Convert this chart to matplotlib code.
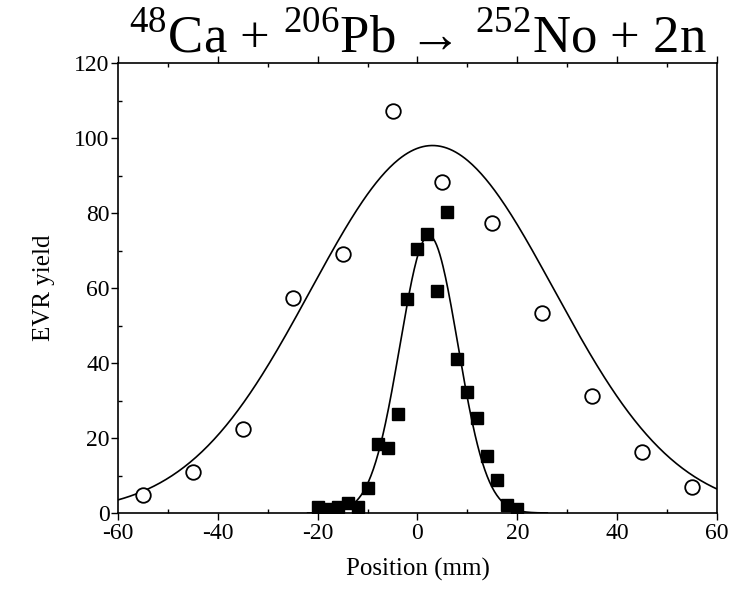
import numpy as np
import matplotlib.pyplot as plt
from matplotlib.ticker import MultipleLocator

plt.rcParams['font.family'] = ['Liberation Serif', 'DejaVu Serif']
plt.rcParams['mathtext.fontset'] = 'custom'
plt.rcParams['mathtext.rm'] = 'Liberation Serif'
plt.rcParams['axes.unicode_minus'] = False

# open circles (wide distribution)
pos_open = [-55, -45, -35, -25, -15, -5, 5, 15, 25, 35, 45, 55]
yield_open = [4.8, 10.9, 22.4, 57.3, 69, 107.2, 88.3, 77.3, 53.3, 31.2, 16.3, 6.9]

# filled squares (narrow distribution)
pos_sq = [-20, -18, -16, -14, -12, -10, -8, -6, -4, -2, 0, 2, 4, 6, 8, 10, 12, 14, 16, 18, 20]
yield_sq = [1.7, 1.0, 1.7, 2.6, 1.5, 6.8, 18.4, 17.4, 26.3, 57.2, 70.3, 74.3, 59.3, 80.3,
            41.2, 32.3, 25.3, 15.3, 8.8, 2.1, 1.2]

# gaussian fit parameters (amplitude, centre, sigma)
fit_wide = (98.0, 3.0, 24.4)
fit_narrow = (74.0, 2.3, 5.8)


def gauss(x, a, c, s):
    return a * np.exp(-(x - c) ** 2 / (2 * s ** 2))


fig = plt.figure(figsize=(7.41, 5.89), dpi=100)
ax = fig.add_axes([0.1592, 0.129, 0.8084, 0.764])

xw = np.linspace(-60, 60, 400)
ax.plot(xw, gauss(xw, *fit_wide), 'k-', lw=1.2)
xn = np.linspace(-22, 26, 300)
ax.plot(xn, gauss(xn, *fit_narrow), 'k-', lw=1.2)

ax.plot(pos_open, yield_open, 'o', ms=10.5, mfc='white', mec='black', mew=1.3)
ax.plot(pos_sq, yield_sq, 's', ms=8.5, color='black')

ax.set_xlim(-60, 60)
ax.set_ylim(0, 120)
ax.xaxis.set_major_locator(MultipleLocator(20))
ax.xaxis.set_minor_locator(MultipleLocator(10))
ax.yaxis.set_major_locator(MultipleLocator(20))
ax.yaxis.set_minor_locator(MultipleLocator(10))
ax.tick_params(which='major', direction='out', length=5, width=1, labelsize=17, pad=1)
ax.tick_params(axis='x', which='major', pad=2)
ax.tick_params(which='minor', direction='in', length=3, width=1)
ax.tick_params(top=True, which='both')
for s in ax.spines.values():
    s.set_linewidth(1.2)

ax.set_xlabel('Position (mm)', fontsize=18, labelpad=10)
ax.set_ylabel('EVR yield', fontsize=18, labelpad=14)
ax.set_title('$^{48}$Ca + $^{206}$Pb \u2192 $^{252}$No + 2n', fontsize=38, pad=3)

fig.savefig('out.png', dpi=100)
